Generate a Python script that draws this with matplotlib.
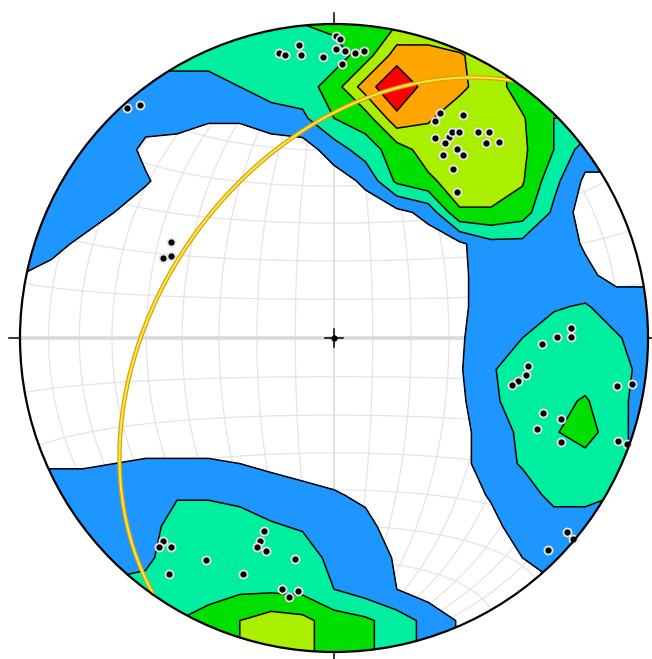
import numpy as np
import matplotlib
matplotlib.use("Agg")
import matplotlib.pyplot as plt
from matplotlib.patches import Circle

# ---- data -------------------------------------------------------------
# poles (trend, plunge in degrees), lower hemisphere
pole_trend = [349.1, 350.2, 353.2, 353.3, 357.8, 0.4, 1.1, 0.4, 2.2, 4.2, 6.0, 1.7,
              25.2, 25.0, 30.0, 26.8, 29.8, 29.8, 31.2, 29.6, 30.8, 33.1, 35.2, 35.0,
              37.0, 37.9, 40.1, 35.2, 40.1,
              318.0, 320.2, 300.5, 295.1, 296.7,
              87.6, 89.8, 89.7, 91.7, 98.2, 100.9, 103.2, 104.8, 99.6, 98.8, 109.7,
              109.6, 114.1, 114.6, 109.9, 109.9,
              129.8, 130.0, 134.7,
              220.1, 219.9, 218.0, 215.0, 210.0, 201.1, 199.9, 200.0, 200.2, 197.7,
              190.0, 191.7, 188.1, 189.9]
pole_plunge = [8.4, 9.4, 6.7, 10.2, 11.4, 4.3, 5.3, 8.8, 9.4, 9.9, 8.9, 13.8,
               21.9, 24.8, 19.1, 29.4, 27.1, 25.4, 24.3, 29.3, 32.7, 29.0, 29.4, 21.1,
               19.0, 22.3, 19.5, 34.5, 39.1,
               1.7, 3.9, 39.6, 39.7, 41.5,
               25.4, 25.5, 29.7, 34.1, 37.6, 37.8, 39.6, 41.0, 9.5, 4.5, 30.0,
               24.3, 29.9, 21.6, 4.3, 0.9,
               3.9, 0.5, 4.6,
               16.6, 14.3, 16.7, 9.1, 19.5, 20.6, 34.9, 31.8, 29.8, 29.5,
               29.3, 19.5, 19.7, 17.4]

# plane (great circle), right-hand-rule strike / dip
plane_strike, plane_dip = 215.0, 44.0

# pole density on a 21 x 21 grid of the net (rows north -> south, cols west -> east)
density = np.array([
 [2,2,2,2,2,2, 2,2,2,2.5,2.8,3.2,3.5,3.5,3.5, 3.5,3,3,3,3,3],
 [2,2,2,2,2,2, 2,2,2,2,2,3,5,5,4.6, 4,3,3,3,3,3],
 [1,1,1,1, 1,1,1,1.5,2,2,3,5,6.5,5,4.7,4,3, 3,3,3,3],
 [1,1,1, 1,0.8,1,0.6,0.6,1,1.3,2.5,3,5.2,4.6,4,4,3.6,2.5, 2.5,2.5,2.5],
 [1,1, 1,1,0.3,0,0,0,0,0,1,2,3,4,4,4,3.7,2.5,1, 1,1],
 [1,1, 1,1,0.6,0,0,0,0,0,0,0.7,2.7,3.3,4,4,3.6,1.8,0.3, 0.3,0.3],
 [1, 1,1,0.5,0,0,0,0,0,0,0,0,0.2,0.8,3.4,3.4,3,1.3,0,0, 0],
 [0.8, 0.8,0.3,0,0,0,0,0,0,0,0,0,0,0,0.3,1.2,1.2,1,0.4,0, 0],
 [0.5, 0.2,0,0,0,0,0,0,0,0,0,0,0,0,0.3,1,1,1,0.7,0.2, 0.2],
 [0, 0,0,0,0,0,0,0,0,0,0,0,0,0,0.3,1,1.1,1.4,1.6,1, 1],
 [0, 0,0,0,0,0,0,0,0,0,0,0,0,0,0.4,1,1.5,2,2,1.6, 1],
 [0, 0,0,0,0,0,0,0,0,0,0,0,0,0,0.4,1.4,2,2,2,2, 1],
 [0, 0,0,0,0,0,0,0,0,0,0,0,0,0,0.3,1.3,2,2.2,2.6,1.8, 1],
 [0, 0,0,0,0,0,0,0,0,0,0,0,0,0,0.2,1,1.7,2.4,3,1.8, 1],
 [0.4,0.4,0.4,0.5,0.6,0.6,0.6,0.5,0.3,0,0,0,0,0,0.2,1,1.6,2,2,1.8,1],
 [1,1,1,1,1,1.4,1.4,1.2,1,0.9,0.6,0.3,0,0,0,0.6,1,1.8,1.8,1.5,1],
 [1,1,1,1,1,2,2,2,1.6,1.4,1,0.8,0,0,0,0.2,1,1,1,1,1],
 [1,1,1,1,1.3,2,2,2,2,2,1.2,1,0.4,0,0,0,0.5,1,1,1,1],
 [1.8,1.8,1.8,1.8,1.8,2,2,2.3,2.3,2.2,1.5,1,0.5,0,0,0,0.3,0.3,0.3,0.3,0.3],
 [2,2,2,2,2,2.5,3,3.5,4,3.8,3,2.7,2,1.2,0.4,0.3,0.3,0.3,0.3,0.3,0.3],
 [2,2,2,2,2,2.5,3,3.5,4,3.8,3,2.7,2,1.2,0.4,0.3,0.3,0.3,0.3,0.3,0.3],
])
contour_levels = [0.5, 1.5, 2.5, 3.5, 4.5, 5.5, 10]
contour_colors = ['#1e96ff', '#00eea0', '#00e000', '#aaee00', '#ffa500', '#ff0000']

# ---- drawing ----------------------------------------------------------
fig = plt.figure(figsize=(6.52, 6.59), dpi=100)
ax = fig.add_axes([0, 0, 1, 1])
ax.set_xlim(-334/314, (652-334)/314)
ax.set_ylim(-(659-338)/314, 338/314)
ax.axis('off')
circ = Circle((0, 0), 1, transform=ax.transData)

def proj(x, y, z):
    s = 1/np.sqrt(1+z)
    return x*s, y*s

# Schmidt net grid
gc = '#e4e4e4'
a = np.linspace(0, np.pi, 181)
for d in range(10, 90, 10):
    dr_ = np.radians(d)
    for sgn in (1, -1):
        x = sgn*np.sin(a)*np.cos(dr_); y = np.cos(a); z = np.sin(a)*np.sin(dr_)
        ax.plot(*proj(x, y, z), color=gc, lw=0.9, zorder=1)
for b in range(10, 180, 10):
    if b == 90:
        continue
    br = np.radians(b)
    x = np.sin(br)*np.cos(a); y = np.full_like(a, np.cos(br)); z = np.sin(br)*np.sin(a)
    ax.plot(*proj(x, y, z), color=gc, lw=0.9, zorder=1)
ax.plot([-1, 1], [0, 0], color='#dadada', lw=2.6, zorder=1)
ax.plot([0, 0], [-1, 1], color='#e0e0e0', lw=1.4, zorder=1)

n = density.shape[0]
xs = np.linspace(-1, 1, n); ys = np.linspace(-1, 1, n)
GX, GY = np.meshgrid(xs, ys)
Zf = np.flipud(density)
cf = ax.contourf(GX, GY, Zf, levels=contour_levels, colors=contour_colors, zorder=2)
cf.set_clip_path(circ)
cl = ax.contour(GX, GY, Zf, levels=contour_levels[:-1], colors='black',
                linewidths=1.1, zorder=3)
cl.set_clip_path(circ)

# great circle of the plane
sr, dr = np.radians(plane_strike), np.radians(plane_dip)
s = np.array([np.sin(sr), np.cos(sr), 0])
dd = sr + np.pi/2
dv = np.array([np.cos(dr)*np.sin(dd), np.cos(dr)*np.cos(dd), np.sin(dr)])
t = np.linspace(0, np.pi, 300)
v = np.outer(np.cos(t), s) + np.outer(np.sin(t), dv)
gx, gy = proj(v[:, 0], v[:, 1], v[:, 2])
ax.plot(gx, gy, color='#d9a400', lw=3.2, zorder=4, solid_capstyle='butt')
ax.plot(gx, gy, color='#ffe650', lw=1.4, zorder=4.1, solid_capstyle='butt')

# poles
tr = np.radians(pole_trend); pl = np.radians(pole_plunge)
qx, qy = proj(np.cos(pl)*np.sin(tr), np.cos(pl)*np.cos(tr), np.sin(pl))
ax.plot(qx, qy, 'o', ms=5.8, mfc='black', mec='#e6e6e6', mew=1.3, zorder=5)

# primitive circle, ticks, centre
ax.add_patch(Circle((0, 0), 1, fill=False, ec='black', lw=1.6, zorder=6))
tk = 11/314
for (ux, uy) in [(0, 1), (0, -1), (1, 0), (-1, 0)]:
    ax.plot([ux, ux*(1+tk)], [uy, uy*(1+tk)], color='black', lw=1.1, zorder=6)
c = 9/314
ax.plot([-c, c], [0, 0], color='black', lw=1.1, zorder=6)
ax.plot([0, 0], [-c, c], color='black', lw=1.1, zorder=6)
ax.plot([0], [0], 'o', ms=3.5, color='black', zorder=6)

fig.savefig('out.png', dpi=100, facecolor='white')
